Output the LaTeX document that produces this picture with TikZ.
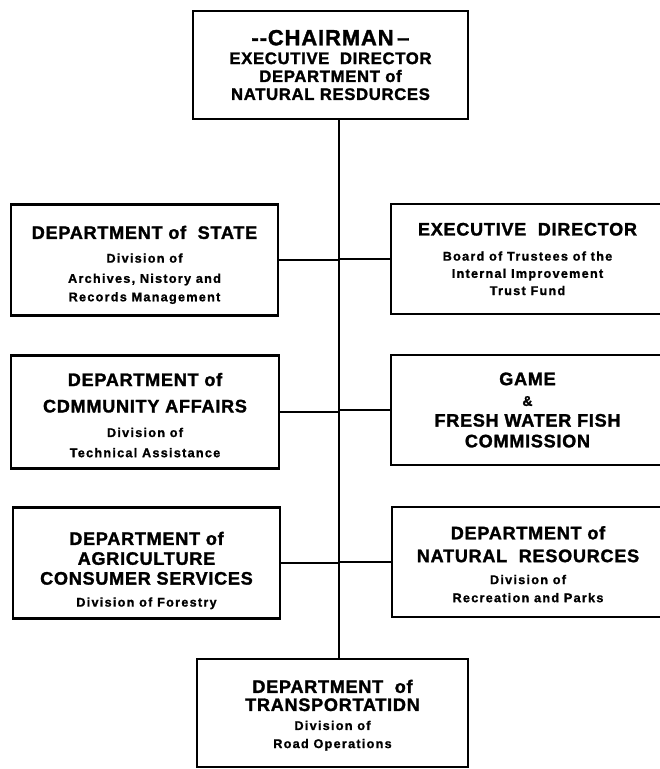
\documentclass[tikz,border=0pt]{standalone}
\usepackage{fontspec}
\setmainfont{Liberation Sans}
\newfontfamily\hdfont{Liberation Sans}[LetterSpace=4, BoldFeatures={FakeBold=1.6}]
\newfontfamily\smfont{Liberation Sans}[LetterSpace=10, BoldFeatures={FakeBold=1.2}]
\newcommand{\hd}[1]{{\fontsize{10.3}{12}\hdfont\bfseries #1}}
\newcommand{\sm}[1]{{\fontsize{7.2}{10}\smfont\bfseries #1}}
\setlength{\lineskiplimit}{-6pt}
\setlength{\lineskip}{0pt}

\tikzset{
	office/.style={draw, line width=1.4pt, align=center, inner sep=0pt, minimum height=2.2cm},
	branch/.style={line width=1.3pt}
}

\begin{document}
\begin{tikzpicture}[x=0.02cm,y=-0.02cm]
	\useasboundingbox (0,0) rectangle (660,769);
	\clip (0,0) rectangle (660,769);
	\coordinate (spine) at (339,0);
	
	\node[office,minimum width=5.5cm,minimum height=2.16cm,font=\fontsize{9.5}{10.2}\selectfont] (chair) at (330.5,65){{\fontsize{12.5}{12}\hdfont\bfseries -{}-CHAIRMAN\,–}\\[0.5pt]{\hdfont\bfseries EXECUTIVE\ \ DIRECTOR}\\{\hdfont\bfseries DEPARTMENT of}\\{\hdfont\bfseries NATURAL RESDURCES}};
	
	\node[office,minimum width=5.34cm,minimum height=2.22cm,font=\fontsize{7.2}{10.5}\selectfont] (state) at (144.5,260){\hd{\rule{0pt}{13pt}DEPARTMENT of\ \ STATE}\\[3pt]\sm{Division of}\\[1pt]\sm{Archives, Nistory and}\\\sm{Records Management}};
	\node[office,minimum width=5.46cm,font=\fontsize{7.2}{9.8}\selectfont] (trustees) at (527.5,259){\hd{EXECUTIVE\ \ DIRECTOR}\\[4.5pt]\sm{Board of Trustees of the}\\\sm{Internal Improvement}\\\sm{Trust Fund}};
	
	\node[office,minimum width=5.36cm,minimum height=2.26cm,font=\fontsize{7.2}{11.5}\selectfont] (community) at (145,412){\hd{\rule{0pt}{11pt}DEPARTMENT of}\\[3.5pt]\hd{CDMMUNITY\ AFFAIRS}\\[2.5pt]\sm{Division of}\\\sm{Technical Assistance}};
	\node[office,minimum width=5.46cm,font=\fontsize{7.2}{11.8}\selectfont] (game) at (527.5,410){\hd{GAME}\\{\fontsize{8}{10}\hdfont\bfseries\&}\\\hd{FRESH WATER FISH}\\\hd{COMMISSION}};
	
	\node[office,minimum width=5.34cm,minimum height=2.22cm,font=\fontsize{7.2}{11.3}\selectfont] (agriculture) at (146.5,563){\hd{\rule{0pt}{16pt}DEPARTMENT of}\\\hd{AGRICULTURE}\\\hd{CONSUMER SERVICES}\\[1.2pt]\sm{Division of Forestry}};
	\node[office,minimum width=5.44cm,font=\fontsize{7.2}{10.3}\selectfont] (natres) at (528,562){\hd{\rule{0pt}{10pt}DEPARTMENT of}\\[2.7pt]\hd{NATURAL\ \ RESOURCES}\\[2.2pt]\sm{Division of}\\\sm{Recreation and Parks}};
	
	\node[office,minimum width=5.42cm,minimum height=2.16cm,font=\fontsize{7.2}{10.3}\selectfont] (transport) at (332.5,713){\hd{\rule{0pt}{10pt}DEPARTMENT\ \ of}\\\hd{TRANSPORTATIDN}\\[0.5pt]\sm{Division of}\\\sm{Road Operations}};
	
	\draw[branch] (spine |- chair.south) -- (spine |- transport.north);
	\draw[branch] (state.east) -- (state.east -| spine);
	\draw[branch] (community.east) -- (community.east -| spine);
	\draw[branch] (agriculture.east) -- (agriculture.east -| spine);
	\draw[branch] (spine |- trustees.west) -- (trustees.west);
	\draw[branch] (spine |- game.west) -- (game.west);
	\draw[branch] (spine |- natres.west) -- (natres.west);
\end{tikzpicture}
\end{document}
